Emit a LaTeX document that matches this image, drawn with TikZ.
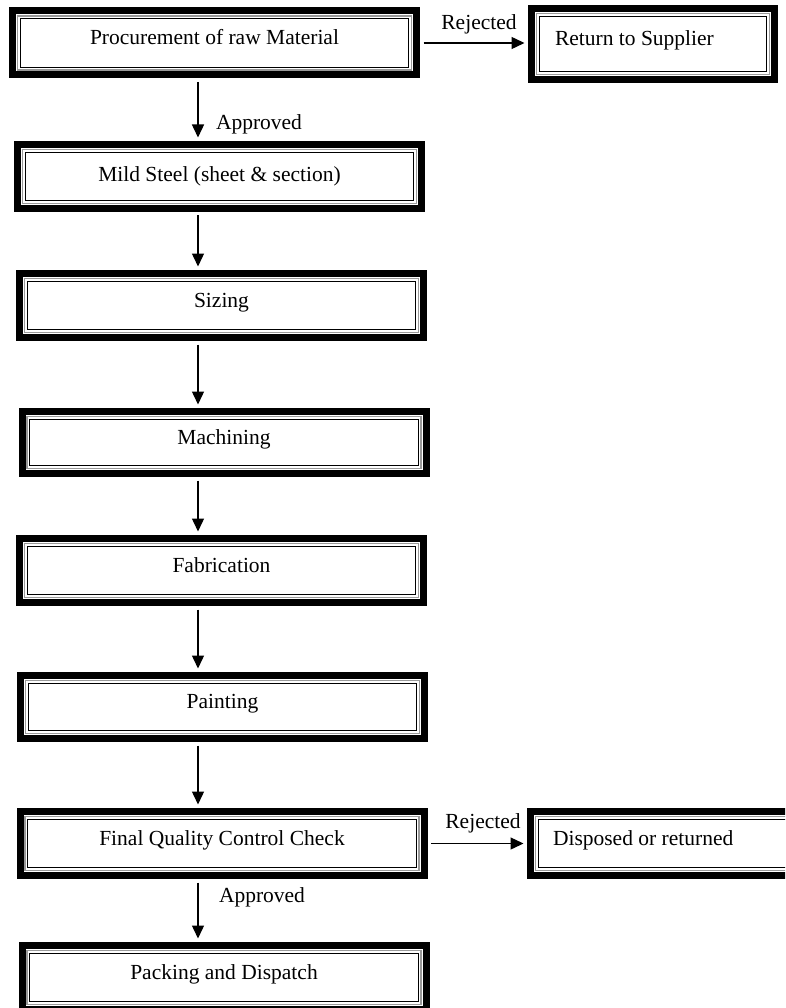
\documentclass[tikz,border=0pt]{standalone}
\usepackage{fontspec}
\setmainfont{Liberation Serif}
\usetikzlibrary{arrows.meta,calc}
\begin{document}
\begin{tikzpicture}[x=1pt,y=-1pt,
  txt/.style={font=\fontsize{21.5}{24}\selectfont},
  fbox/.style={txt, draw=black, line width=7pt, fill=white,
    minimum width=404pt, minimum height=64pt, inner sep=0pt,
    text height=15pt, text depth=12pt,
    path picture={
      \draw[black!40, line width=1.2pt]
        ([xshift=5pt,yshift=-5pt]path picture bounding box.north west) rectangle
        ([xshift=-5pt,yshift=5pt]path picture bounding box.south east);
      \draw[black, line width=0.9pt]
        ([xshift=7.6pt,yshift=-7.6pt]path picture bounding box.north west) rectangle
        ([xshift=-7.6pt,yshift=7.6pt]path picture bounding box.south east);
    }},
  lbl/.style={txt, inner sep=0pt},
  arr/.style={line width=1.4pt, -{Triangle[width=12pt,length=13pt]},
    shorten <=3.5pt, shorten >=3.5pt}
]
\useasboundingbox (0,0) rectangle (785,1008);
\clip (0,0) rectangle (785,1008);

\node[fbox] (b1) at (214.5,43) {Procurement of raw Material};
\node[fbox, minimum width=243pt, minimum height=71pt] (r1) at (653,44)
  {\makebox[196pt][l]{Return to Supplier}};
\node[fbox, text depth=5pt] (b2) at (219.5,176.5) {Mild Steel (sheet \& section)};
\node[fbox] (b3) at (221.5,305.5) {Sizing};
\node[fbox, minimum height=62pt] (b4) at (224,442.5) {Machining};
\node[fbox] (b5) at (221.5,570.5) {Fabrication};
\node[fbox, minimum height=63pt] (b6) at (222.5,707) {Painting};
\node[fbox] (b7) at (222,843.5) {Final Quality Control Check};
\node[fbox, minimum width=283pt] (r2) at (672,843.5)
  {\makebox[238pt][l]{Disposed or returned}};
\node[fbox] (b8) at (224,977.5) {Packing and Dispatch};

\coordinate (ax) at (198,0);

\draw[arr] (b1.east) -- (b1.east -| r1.west);
\node[lbl] (rej1) at (479,24) {Rejected};
\draw[arr] (b1.south -| ax) -- (b2.north -| ax);
\node[lbl] (app1) at (259,124) {Approved};
\draw[arr] (b2.south -| ax) -- (b3.north -| ax);
\draw[arr] (b3.south -| ax) -- (b4.north -| ax);
\draw[arr] (b4.south -| ax) -- (b5.north -| ax);
\draw[arr] (b5.south -| ax) -- (b6.north -| ax);
\draw[arr] (b6.south -| ax) -- (b7.north -| ax);
\draw[arr] (b7.east) -- (b7.east -| r2.west);
\node[lbl] (rej2) at (483,823) {Rejected};
\draw[arr] (b7.south -| ax) -- (b8.north -| ax);
\node[lbl] (app2) at (262,897) {Approved};
\end{tikzpicture}
\end{document}
